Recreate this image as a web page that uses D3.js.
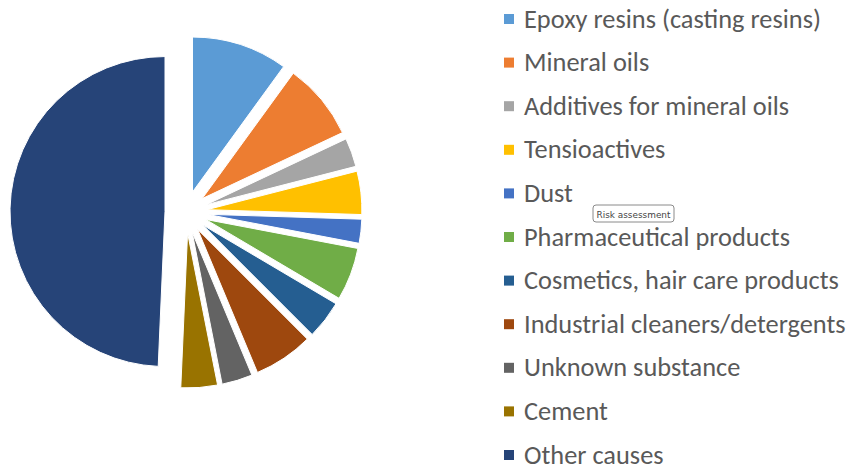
<!DOCTYPE html>
<html>
<head>
<meta charset="utf-8">
<script src="https://cdn.jsdelivr.net/npm/d3@7"></script>
<style>
  html, body { margin: 0; padding: 0; background: #fff; }
  svg { display: block; }
</style>
</head>
<body>
<svg width="851" height="467"></svg>
<script>
// data (share of cases, %)
const categories = [
  'Epoxy resins (casting resins)',
  'Mineral oils',
  'Additives for mineral oils',
  'Tensioactives',
  'Dust',
  'Pharmaceutical products',
  'Cosmetics, hair care products',
  'Industrial cleaners/detergents',
  'Unknown substance',
  'Cement',
  'Other causes'
];
const values = [10, 8, 3, 4.5, 2.5, 5.5, 4, 6.2, 3.2, 3.8, 49.3];
const colors = ['#5B9BD5', '#ED7D31', '#A5A5A5', '#FFC000', '#4472C4', '#70AD47',
                '#255E91', '#9E480E', '#636363', '#997300', '#264478'];

const svg = d3.select('svg');

const cx = 186, cy = 212;
const radius = 155;
const explode = 21;

const pie = d3.pie().sort(null).value(d => d.value);
const arc = d3.arc().innerRadius(0).outerRadius(radius);

const data = categories.map((c, i) => ({ name: c, value: values[i], color: colors[i] }));

const g = svg.append('g').attr('transform', `translate(${cx}, ${cy})`);

g.selectAll('path').data(pie(data))
  .enter().append('path')
  .attr('d', arc)
  .attr('fill', d => d.data.color)
  .attr('stroke', '#fff')
  .attr('stroke-width', 1)
  .attr('transform', d => {
    const a = (d.startAngle + d.endAngle) / 2; // pull every slice out along its bisector
    return `translate(${Math.sin(a) * explode}, ${-Math.cos(a) * explode})`;
  });

// legend
const legendX = 504, legendY = 19, rowH = 43.6;
const legend = svg.append('g');
const rows = legend.selectAll('g').data(data)
  .enter().append('g')
  .attr('transform', (d, i) => `translate(${legendX}, ${legendY + i * rowH})`);

rows.append('rect')
  .attr('x', 0).attr('y', -5)
  .attr('width', 10).attr('height', 10)
  .attr('fill', d => d.color);

const labels = rows.append('text')
  .attr('x', 20)
  .attr('dy', '0.33em')
  .attr('font-family', "Calibri, Carlito, 'Open Sans', sans-serif")
  .attr('font-size', '26px')
  .attr('fill', '#595959')
  .text(d => d.name);

// fit the longest row to the reference width
const w0 = labels.nodes()[0].getComputedTextLength();
const sx = 297 / w0;
labels.attr('transform', `translate(${20 * (1 - sx)}, 0) scale(${sx}, 1)`);

// little tooltip left in the screenshot
const tip = svg.append('g').attr('transform', 'translate(593, 205)');
tip.append('rect')
  .attr('width', 81).attr('height', 17)
  .attr('rx', 3)
  .attr('fill', '#fff')
  .attr('stroke', '#8a8a8a');
tip.append('text')
  .attr('x', 40.5).attr('y', 12.5)
  .attr('text-anchor', 'middle')
  .attr('font-family', "'DejaVu Sans', sans-serif")
  .attr('font-size', '9.5px')
  .attr('fill', '#444')
  .attr('textLength', 74)
  .attr('lengthAdjust', 'spacingAndGlyphs')
  .text('Risk assessment');
</script>
</body>
</html>
